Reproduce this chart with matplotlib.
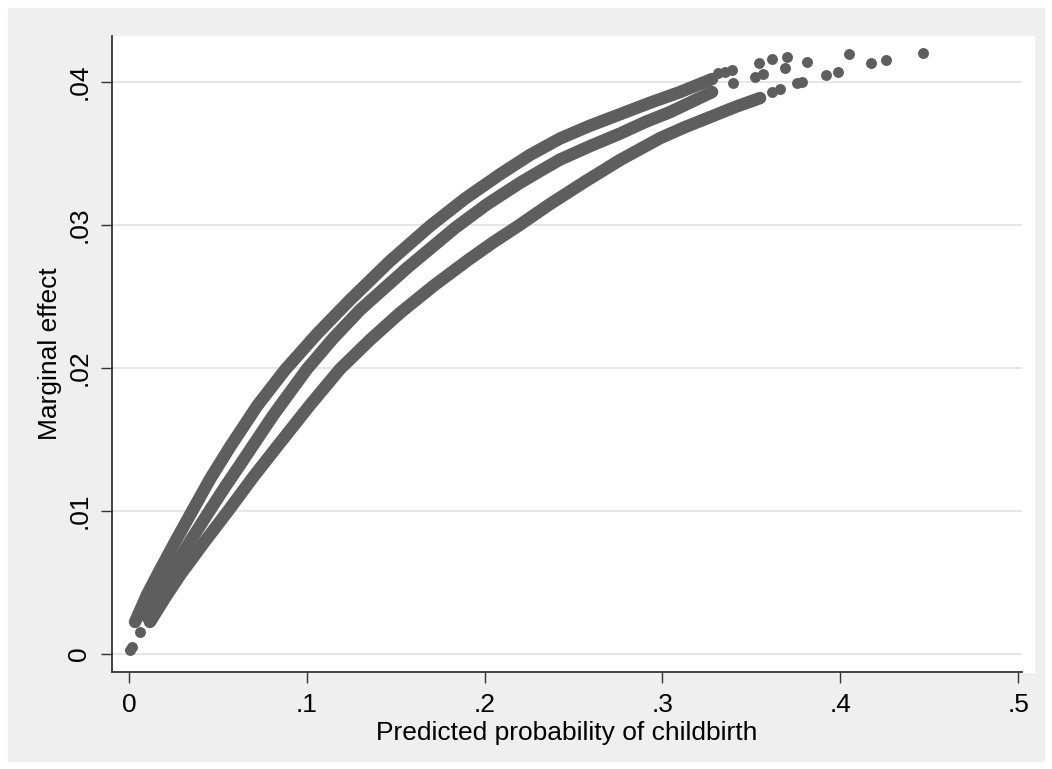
import matplotlib
matplotlib.use("Agg")
import matplotlib.pyplot as plt
from matplotlib.patches import Rectangle

plt.rcParams['font.family'] = ['Liberation Sans', 'DejaVu Sans']

# dense bands (read along the centre of each band)
top_x = [0.0034, 0.0101, 0.0174, 0.0259, 0.0343, 0.0456, 0.0568, 0.0720, 0.0877,
         0.1057, 0.1243, 0.1468, 0.1693, 0.1890, 0.2087, 0.2255, 0.2424, 0.2593,
         0.2762, 0.2930, 0.3099, 0.3279]
top_y = [0.00224, 0.00413, 0.00587, 0.00783, 0.00972, 0.01224, 0.01448, 0.01734,
         0.01986, 0.02238, 0.02476, 0.02748, 0.02993, 0.03185, 0.03355, 0.0349,
         0.03605, 0.03695, 0.03775, 0.03855, 0.0393, 0.04021]
mid_x = [0.0107, 0.0169, 0.0231, 0.0343, 0.0456, 0.0540, 0.0624, 0.0810, 0.1001,
         0.1147, 0.1299, 0.1564, 0.1834, 0.2013, 0.2199, 0.2312, 0.2424, 0.2593,
         0.2762, 0.2902, 0.3043, 0.3161, 0.3279]
mid_y = [0.00252, 0.00406, 0.00552, 0.00787, 0.01007, 0.01168, 0.01322, 0.01668,
         0.01993, 0.02206, 0.02406, 0.0270, 0.0298, 0.03145, 0.03295, 0.03378,
         0.03458, 0.03552, 0.0364, 0.0372, 0.0379, 0.0386, 0.0393]
bot_x = [0.0118, 0.0202, 0.0287, 0.0422, 0.0557, 0.0703, 0.0849, 0.1018, 0.1187,
         0.1355, 0.1524, 0.1715, 0.1907, 0.2047, 0.2188, 0.2368, 0.2565, 0.2762,
         0.2874, 0.2987, 0.3127, 0.3268, 0.3408, 0.3549]
bot_y = [0.00224, 0.00392, 0.00552, 0.0078, 0.0100, 0.01245, 0.01476, 0.01741,
         0.01993, 0.02196, 0.02385, 0.02577, 0.02755, 0.02878, 0.02993, 0.03147,
         0.03304, 0.03455, 0.03531, 0.03608, 0.03685, 0.03755, 0.03825, 0.03888]

# isolated observations
dots_x = [0.0005, 0.0015, 0.0062, 0.331, 0.335, 0.339, 0.3397, 0.3543, 0.3617,
          0.370, 0.3813, 0.405, 0.4173, 0.4258, 0.4466, 0.352, 0.3566, 0.369,
          0.3757, 0.3785, 0.392, 0.3988, 0.3617, 0.3660]
dots_y = [0.0003, 0.0005, 0.00154, 0.04063, 0.0407, 0.04084, 0.03993, 0.04133,
          0.04161, 0.04175, 0.0414, 0.04196, 0.04133, 0.04154, 0.04203, 0.04035,
          0.04056, 0.04098, 0.0399, 0.0400, 0.0405, 0.0407, 0.0393, 0.0395]

yticks = [0, 0.01, 0.02, 0.03, 0.04]
ytick_labels = ["0", ".01", ".02", ".03", ".04"]
xticks = [0, 0.1, 0.2, 0.3, 0.4, 0.5]
xtick_labels = ["0", ".1", ".2", ".3", ".4", ".5"]

W, H = 1052, 769
fig = plt.figure(figsize=(W / 100, H / 100), dpi=100)
fig.patch.set_facecolor("white")

# graph region (grey) and plot region (white)
fig.patches.append(Rectangle((8 / W, 8 / H), (1044 - 8) / W, (761 - 8) / H,
                             transform=fig.transFigure, color="#efefef", zorder=-2))
fig.patches.append(Rectangle((112 / W, 1 - 672 / H), (1034 - 112) / W, (672 - 36) / H,
                             transform=fig.transFigure, color="white", zorder=-1))

ax = fig.add_axes([112 / W, 1 - 672 / H, (1022 - 112) / W, (672 - 36) / H])
ax.set_facecolor("white")
ax.set_xlim(-0.00956, 0.5022)
ax.set_ylim(-0.00126, 0.04322)

col = "#5e5e5e"
for xs, ys in [(bot_x, bot_y), (mid_x, mid_y), (top_x, top_y)]:
    ax.plot(xs, ys, color=col, lw=9, solid_capstyle="round", solid_joinstyle="round")
ax.scatter(dots_x, dots_y, s=62, color=col, linewidths=0)

ax.set_yticks(yticks)
ax.set_yticklabels(ytick_labels, rotation=90, va="center")
ax.set_xticks(xticks)
ax.set_xticklabels(xtick_labels)
ax.grid(axis="y", color="#e6e6e6", lw=1.5)
ax.set_axisbelow(True)
ax.tick_params(direction="out", length=8, width=1, color="#333333", labelsize=19, pad=7)

for s in ["top", "right"]:
    ax.spines[s].set_visible(False)
for s in ["left", "bottom"]:
    ax.spines[s].set_color("#333333")
    ax.spines[s].set_linewidth(1.3)

ax.set_xlabel("Predicted probability of childbirth", fontsize=19, labelpad=3)
ax.set_ylabel("Marginal effect", fontsize=19, labelpad=4)

fig.savefig("out.png", dpi=100)
